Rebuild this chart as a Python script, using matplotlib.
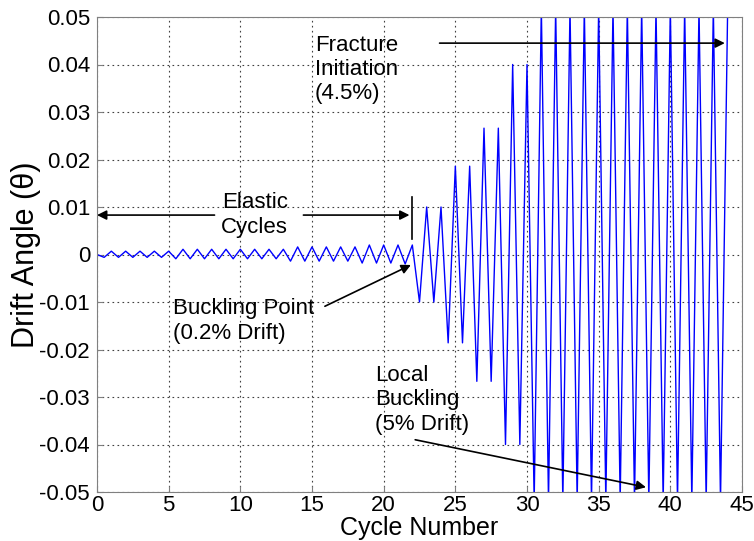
import numpy as np
import matplotlib
matplotlib.use("Agg")
import matplotlib.pyplot as plt

plt.rcParams['font.family'] = ['Liberation Sans', 'DejaVu Sans']
plt.rcParams['axes.unicode_minus'] = False

# --- data ---
# peak drift at each whole cycle 1..44
peak_cycles = list(range(1, 45))
peak_drift = [0.0007, 0.0007, 0.0007, 0.0007, 0.0007,
              0.0011, 0.0011, 0.0011, 0.0011, 0.0011, 0.0011, 0.0011, 0.0011,
              0.0016, 0.0016, 0.0016, 0.0016, 0.0016,
              0.0020, 0.0020, 0.0020, 0.0020,
              0.0100, 0.0100,
              0.0186, 0.0186,
              0.0266, 0.0266,
              0.0400, 0.0400,
              0.052, 0.052, 0.052, 0.052, 0.052, 0.052, 0.052,
              0.052, 0.052, 0.052, 0.052, 0.052, 0.052, 0.052]
# trough drift at each half cycle 0.5..43.5
trough_cycles = [c - 0.5 for c in peak_cycles]
trough_drift = [-0.0006, -0.0006, -0.0006, -0.0006, -0.0006,
                -0.0009, -0.0009, -0.0009, -0.0009, -0.0009, -0.0009, -0.0009, -0.0009,
                -0.0014, -0.0014, -0.0014, -0.0014, -0.0014,
                -0.0018, -0.0018, -0.0018,
                -0.0020,
                -0.0100, -0.0100,
                -0.0186, -0.0186,
                -0.0267, -0.0267,
                -0.0400, -0.0400,
                -0.052, -0.052, -0.052, -0.052, -0.052, -0.052, -0.052,
                -0.052, -0.052, -0.052, -0.052, -0.052, -0.052, -0.052]

x_ticks = [0, 5, 10, 15, 20, 25, 30, 35, 40, 45]
y_ticks = [-0.05, -0.04, -0.03, -0.02, -0.01, 0, 0.01, 0.02, 0.03, 0.04, 0.05]
y_tick_labels = ['-0.05', '-0.04', '-0.03', '-0.02', '-0.01', '0',
                 '0.01', '0.02', '0.03', '0.04', '0.05']

# build the zig-zag: start at 0, then trough, peak, trough, peak ...
xs = [0.0]
ys = [0.0]
for tc, td, pc, pd in zip(trough_cycles, trough_drift, peak_cycles, peak_drift):
    xs += [tc, pc]
    ys += [td, pd]

fig = plt.figure(figsize=(7.54, 5.41), dpi=100)
ax = fig.add_axes([97 / 754, 49 / 541, 645 / 754, 475 / 541])

ax.plot(xs, ys, color='#0000ff', linewidth=1.0)

ax.set_xlim(0, 45)
ax.set_ylim(-0.05, 0.05)
ax.set_xticks(x_ticks)
ax.set_yticks(y_ticks)
ax.set_yticklabels(y_tick_labels)
ax.tick_params(direction='in', labelsize=16, colors='#808080', labelcolor='black',
               length=4)
ax.tick_params(axis='x', pad=2)
ax.tick_params(axis='y', pad=5)
ax.grid(True, linestyle=(0, (1.5, 3)), color='#404040', linewidth=0.8)
for s in ax.spines.values():
    s.set_color('#808080')

ax.set_xlabel('Cycle Number', fontsize=18, labelpad=0)
ax.set_ylabel('Drift Angle (θ)', fontsize=22, labelpad=-1)

fs = 16
ls = 1.2
arrow = dict(arrowstyle='-|>', color='black', lw=1.2, mutation_scale=14,
             shrinkA=0, shrinkB=0)

# Fracture initiation
ax.text(15.2, 0.0462, 'Fracture\nInitiation\n(4.5%)', fontsize=fs, va='top',
        ha='left', linespacing=ls)
ax.annotate('', xy=(43.8, 0.0445), xytext=(23.9, 0.0445), arrowprops=arrow)

# Elastic cycles
ax.text(11.0, 0.0083, 'Elastic\nCycles', fontsize=fs, ha='center', va='center',
        linespacing=ls)
ax.annotate('', xy=(0.0, 0.0083), xytext=(8.2, 0.0083), arrowprops=arrow)
ax.annotate('', xy=(21.8, 0.0083), xytext=(14.4, 0.0083), arrowprops=arrow)
ax.plot([22.0, 22.0], [0.0122, 0.0032], color='black', linewidth=1.2)

# Buckling point
ax.text(5.3, -0.0140, 'Buckling Point\n(0.2% Drift)', fontsize=fs, ha='left',
        va='center', linespacing=ls)
ax.annotate('', xy=(21.9, -0.0022), xytext=(15.9, -0.0109), arrowprops=arrow)

# Local buckling
ax.text(19.4, -0.0233, 'Local\nBuckling\n(5% Drift)', fontsize=fs, ha='left',
        va='top', linespacing=ls)
ax.annotate('', xy=(38.3, -0.049), xytext=(22.2, -0.039), arrowprops=arrow)

fig.savefig('out.png', dpi=100)
